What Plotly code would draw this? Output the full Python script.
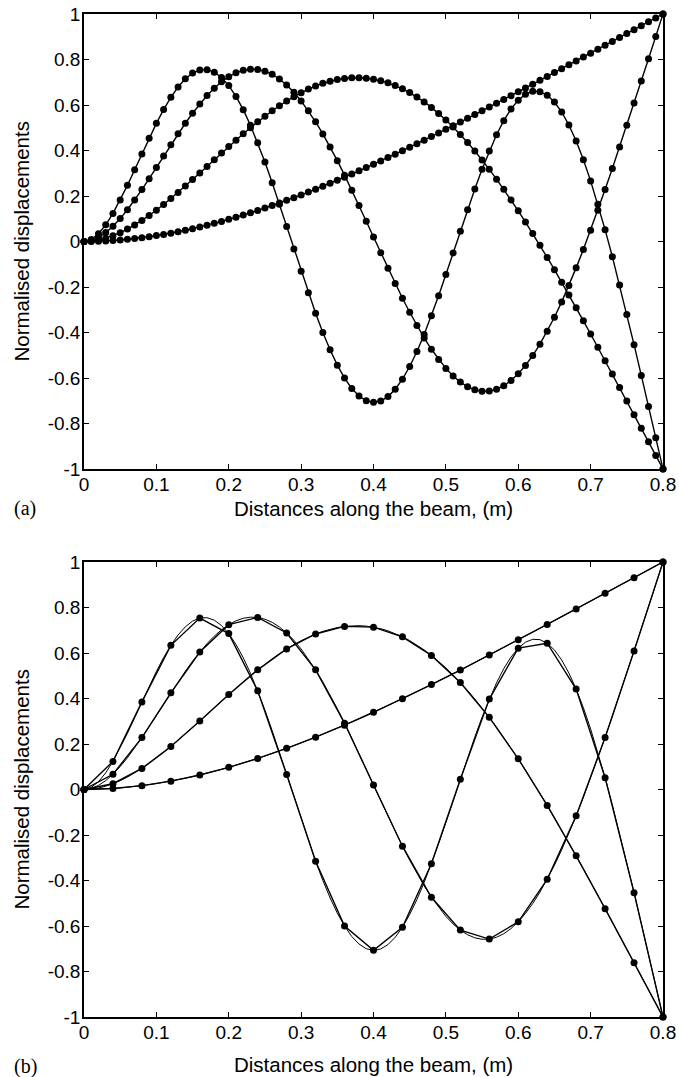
import plotly.graph_objects as go

# ---------------- data ----------------
x_fine = [0.00, 0.01, 0.02, 0.03, 0.04, 0.05, 0.06, 0.07, 0.08, 0.09,
          0.10, 0.11, 0.12, 0.13, 0.14, 0.15, 0.16, 0.17, 0.18, 0.19,
          0.20, 0.21, 0.22, 0.23, 0.24, 0.25, 0.26, 0.27, 0.28, 0.29,
          0.30, 0.31, 0.32, 0.33, 0.34, 0.35, 0.36, 0.37, 0.38, 0.39,
          0.40, 0.41, 0.42, 0.43, 0.44, 0.45, 0.46, 0.47, 0.48, 0.49,
          0.50, 0.51, 0.52, 0.53, 0.54, 0.55, 0.56, 0.57, 0.58, 0.59,
          0.60, 0.61, 0.62, 0.63, 0.64, 0.65, 0.66, 0.67, 0.68, 0.69,
          0.70, 0.71, 0.72, 0.73, 0.74, 0.75, 0.76, 0.77, 0.78, 0.79, 0.80]

mode1_fine = [0.0, 0.0003, 0.0011, 0.0024, 0.0043, 0.0067, 0.0095, 0.0129, 0.0168, 0.0211,
              0.0259, 0.0311, 0.0368, 0.0430, 0.0495, 0.0565, 0.0639, 0.0717, 0.0798, 0.0884,
              0.0973, 0.1066, 0.1162, 0.1262, 0.1365, 0.1471, 0.1581, 0.1693, 0.1809, 0.1927,
              0.2048, 0.2172, 0.2299, 0.2428, 0.2559, 0.2693, 0.2829, 0.2968, 0.3108, 0.3251,
              0.3395, 0.3542, 0.3689, 0.3839, 0.3991, 0.4144, 0.4298, 0.4454, 0.4611, 0.4770,
              0.4929, 0.5090, 0.5252, 0.5415, 0.5579, 0.5743, 0.5909, 0.6075, 0.6242, 0.6409,
              0.6577, 0.6746, 0.6915, 0.7085, 0.7255, 0.7425, 0.7596, 0.7766, 0.7937, 0.8109,
              0.8280, 0.8452, 0.8623, 0.8795, 0.8967, 0.9139, 0.9311, 0.9483, 0.9655, 0.9827, 1.0]

mode2_fine = [0.0, 0.0017, 0.0066, 0.0146, 0.0254, 0.0388, 0.0546, 0.0726, 0.0926, 0.1145,
              0.1379, 0.1627, 0.1888, 0.2158, 0.2437, 0.2722, 0.3011, 0.3302, 0.3594, 0.3885,
              0.4173, 0.4456, 0.4733, 0.5002, 0.5261, 0.5510, 0.5746, 0.5969, 0.6177, 0.6368,
              0.6542, 0.6698, 0.6835, 0.6951, 0.7046, 0.7119, 0.7170, 0.7197, 0.7201, 0.7181,
              0.7137, 0.7068, 0.6974, 0.6856, 0.6712, 0.6544, 0.6352, 0.6135, 0.5895, 0.5631,
              0.5344, 0.5034, 0.4702, 0.4349, 0.3976, 0.3583, 0.3171, 0.2740, 0.2293, 0.1829,
              0.1350, 0.0856, 0.0350, -0.0170, -0.0700, -0.1241, -0.1792, -0.2350, -0.2916, -0.3489,
              -0.4067, -0.4651, -0.5237, -0.5828, -0.6420, -0.7015, -0.7611, -0.8207, -0.8805, -0.9402, -1.0]

mode3_fine = [0.0, 0.0047, 0.0180, 0.0391, 0.0670, 0.1008, 0.1395, 0.1823, 0.2281, 0.2761,
              0.3254, 0.3753, 0.4248, 0.4732, 0.5197, 0.5637, 0.6045, 0.6415, 0.6741, 0.7019,
              0.7245, 0.7415, 0.7525, 0.7575, 0.7562, 0.7486, 0.7347, 0.7144, 0.6881, 0.6557,
              0.6177, 0.5743, 0.5259, 0.4730, 0.4159, 0.3553, 0.2917, 0.2257, 0.1580, 0.0891,
              0.0197, -0.0495, -0.1179, -0.1847, -0.2493, -0.3111, -0.3695, -0.4239, -0.4738, -0.5186,
              -0.5578, -0.5911, -0.6181, -0.6384, -0.6519, -0.6583, -0.6575, -0.6494, -0.6339, -0.6113,
              -0.5815, -0.5447, -0.5012, -0.4512, -0.3949, -0.3329, -0.2654, -0.1930, -0.1159, -0.0348,
              0.0499, 0.1378, 0.2284, 0.3211, 0.4156, 0.5114, 0.6083, 0.7057, 0.8036, 0.9016, 1.0]

mode4_fine = [0.0, 0.0090, 0.0343, 0.0733, 0.1235, 0.1822, 0.2469, 0.3153, 0.3850, 0.4537,
              0.5193, 0.5799, 0.6337, 0.6792, 0.7151, 0.7402, 0.7538, 0.7552, 0.7442, 0.7208,
              0.6852, 0.6378, 0.5794, 0.5111, 0.4339, 0.3492, 0.2585, 0.1634, 0.0657, -0.0328,
              -0.1304, -0.2252, -0.3156, -0.3997, -0.4762, -0.5436, -0.6005, -0.6461, -0.6794, -0.6999,
              -0.7071, -0.7010, -0.6817, -0.6496, -0.6053, -0.5496, -0.4838, -0.4089, -0.3265, -0.2381,
              -0.1455, -0.0505, 0.0452, 0.1397, 0.2310, 0.3175, 0.3974, 0.4691, 0.5312, 0.5823,
              0.6214, 0.6476, 0.6602, 0.6587, 0.6430, 0.6131, 0.5692, 0.5118, 0.4416, 0.3595,
              0.2664, 0.1635, 0.0520, -0.0667, -0.1914, -0.3208, -0.4536, -0.5888, -0.7253, -0.8626, -1.0]

x_coarse = [0.00, 0.04, 0.08, 0.12, 0.16, 0.20, 0.24, 0.28, 0.32, 0.36, 0.40,
            0.44, 0.48, 0.52, 0.56, 0.60, 0.64, 0.68, 0.72, 0.76, 0.80]

mode1_coarse = [0.0, 0.0043, 0.0168, 0.0368, 0.0639, 0.0973, 0.1365, 0.1809, 0.2299, 0.2829, 0.3395,
                0.3991, 0.4611, 0.5252, 0.5909, 0.6577, 0.7255, 0.7937, 0.8623, 0.9311, 1.0]
mode2_coarse = [0.0, 0.0254, 0.0926, 0.1888, 0.3011, 0.4173, 0.5261, 0.6177, 0.6835, 0.7170, 0.7137,
                0.6712, 0.5895, 0.4702, 0.3171, 0.1350, -0.0700, -0.2916, -0.5237, -0.7611, -1.0]
mode3_coarse = [0.0, 0.0670, 0.2281, 0.4248, 0.6045, 0.7245, 0.7562, 0.6881, 0.5259, 0.2917, 0.0197,
                -0.2493, -0.4738, -0.6181, -0.6575, -0.5815, -0.3949, -0.1159, 0.2284, 0.6083, 1.0]
mode4_coarse = [0.0, 0.1235, 0.3850, 0.6337, 0.7538, 0.6852, 0.4339, 0.0657, -0.3156, -0.6005, -0.7071,
                -0.6053, -0.3265, 0.0452, 0.3974, 0.6214, 0.6430, 0.4416, 0.0520, -0.4536, -1.0]

x_tickvals = [0, 0.1, 0.2, 0.3, 0.4, 0.5, 0.6, 0.7, 0.8]
x_ticktext = ["0", "0.1", "0.2", "0.3", "0.4", "0.5", "0.6", "0.7", "0.8"]
y_tickvals = [-1, -0.8, -0.6, -0.4, -0.2, 0, 0.2, 0.4, 0.6, 0.8, 1]
y_ticktext = ["-1", "-0.8", "-0.6", "-0.4", "-0.2", "0", "0.2", "0.4", "0.6", "0.8", "1"]

x_title = "Distances along the beam, (m)"
y_title = "Normalised displacements"

# ---------------- figure ----------------
W, H = 679, 1077
fig = go.Figure()

fine_modes = [mode1_fine, mode2_fine, mode3_fine, mode4_fine]
coarse_modes = [mode1_coarse, mode2_coarse, mode3_coarse, mode4_coarse]

# panel (a): dense markers
for m in fine_modes:
    fig.add_trace(go.Scatter(x=x_fine, y=m, mode="lines+markers",
                             line=dict(color="black", width=1.4),
                             marker=dict(color="black", size=7),
                             cliponaxis=False, showlegend=False,
                             xaxis="x", yaxis="y"))

# panel (b): thin reference curves + coarse markers
for m in fine_modes:
    fig.add_trace(go.Scatter(x=x_fine, y=m, mode="lines",
                             line=dict(color="black", width=1.0),
                             showlegend=False, xaxis="x2", yaxis="y2"))
for m in coarse_modes:
    fig.add_trace(go.Scatter(x=x_coarse, y=m, mode="lines+markers",
                             line=dict(color="black", width=1.4),
                             marker=dict(color="black", size=7),
                             cliponaxis=False, showlegend=False,
                             xaxis="x2", yaxis="y2"))

def px_x(p):
    return p / W

def px_y(p):
    return 1 - p / H

left, right = 84, 663
a_top, a_bot = 14, 469
b_top, b_bot = 562, 1017

tickfont = dict(family="Liberation Sans, Arial, Helvetica", size=19, color="black")
common_x = dict(range=[0, 0.8], tickvals=x_tickvals, ticktext=x_ticktext,
                showline=True, linecolor="black", linewidth=1.6, mirror="ticks",
                ticks="inside", ticklen=5, tickwidth=1.3, tickcolor="black",
                showgrid=False, zeroline=False, tickfont=tickfont,
                ticklabelstandoff=-3, automargin=False)
common_y = dict(range=[-1, 1], tickvals=y_tickvals, ticktext=y_ticktext,
                showline=True, linecolor="black", linewidth=1.6, mirror="ticks",
                ticks="inside", ticklen=5, tickwidth=1.3, tickcolor="black",
                showgrid=False, zeroline=False, tickfont=tickfont,
                ticklabelstandoff=-2, automargin=False)

fig.update_layout(
    width=W, height=H,
    margin=dict(l=0, r=0, t=0, b=0, pad=0, autoexpand=False),
    paper_bgcolor="white", plot_bgcolor="white",
    xaxis=dict(domain=[px_x(left), px_x(right)], anchor="y", **common_x),
    yaxis=dict(domain=[px_y(a_bot), px_y(a_top)], anchor="x", **common_y),
    xaxis2=dict(domain=[px_x(left), px_x(right)], anchor="y2", **common_x),
    yaxis2=dict(domain=[px_y(b_bot), px_y(b_top)], anchor="x2", **common_y),
)

title_font = dict(family="Liberation Sans, Arial, Helvetica", size=20.5, color="black")
label_font = dict(family="Liberation Serif, Times New Roman, serif", size=20, color="black")
cx = px_x((left + right) / 2)
ann = []
for top, bot, xt_center, lab, lab_y in [(a_top, a_bot, 508, "(a)", 508),
                                         (b_top, b_bot, 1064, "(b)", 1066)]:
    ann.append(dict(text=x_title, x=cx, y=px_y(xt_center), xref="paper", yref="paper",
                    showarrow=False, font=title_font, xanchor="center", yanchor="middle"))
    ann.append(dict(text=y_title, x=px_x(21), y=px_y((top + bot) / 2), xref="paper", yref="paper",
                    showarrow=False, font=title_font, textangle=-90,
                    xanchor="center", yanchor="middle"))
    ann.append(dict(text=lab, x=px_x(25), y=px_y(lab_y), xref="paper", yref="paper",
                    showarrow=False, font=label_font, xanchor="center", yanchor="middle"))
fig.update_layout(annotations=ann)

fig.write_html("out.html")
